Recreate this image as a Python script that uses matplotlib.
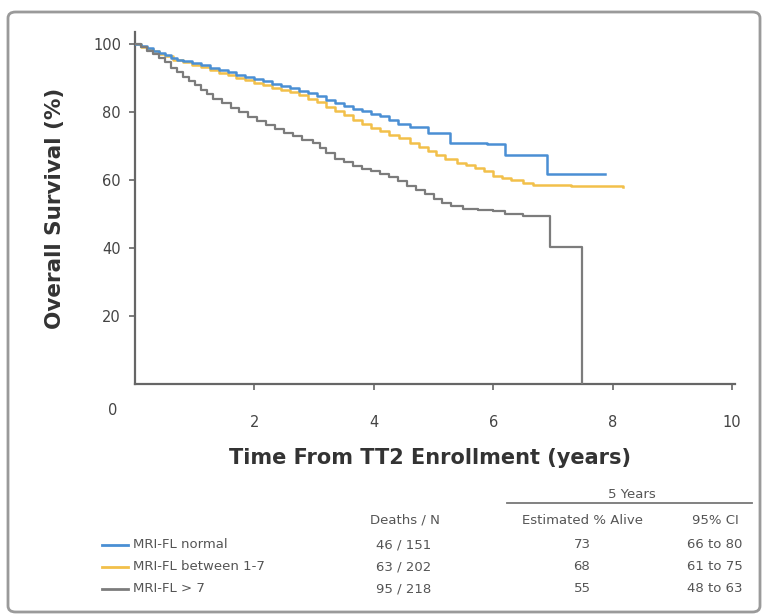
import matplotlib
matplotlib.use('Agg')
import matplotlib.pyplot as plt
from matplotlib.patches import FancyBboxPatch
from matplotlib.lines import Line2D

# Kaplan-Meier overall survival by MRI focal lesion group
t_normal = [0, 0.1, 0.2, 0.3, 0.4, 0.5, 0.6, 0.7, 0.8, 0.95, 1.1, 1.25, 1.4, 1.55,
            1.7, 1.85, 2.0, 2.15, 2.3, 2.45, 2.6, 2.75, 2.9, 3.05, 3.2, 3.35, 3.5,
            3.65, 3.8, 3.95, 4.1, 4.25, 4.4, 4.6, 4.9, 5.27, 5.9, 6.19, 6.9, 7.87]
s_normal = [100, 99.3, 98.7, 98, 97.4, 96.7, 96, 95.4, 94.9, 94.3, 93.7, 93, 92.4, 91.7,
            91, 90.3, 89.7, 89, 88.3, 87.6, 87, 86.2, 85.5, 84.6, 83.6, 82.7, 81.8,
            81, 80.3, 79.5, 78.7, 77.5, 76.5, 75.6, 73.8, 70.8, 70.5, 67.4, 61.8, 61.8]

t_mid = [0, 0.1, 0.2, 0.3, 0.4, 0.5, 0.64, 0.8, 0.95, 1.1, 1.25, 1.4, 1.55, 1.7,
         1.85, 2.0, 2.15, 2.3, 2.45, 2.6, 2.75, 2.9, 3.05, 3.2, 3.35, 3.5, 3.65,
         3.8, 3.95, 4.1, 4.25, 4.43, 4.6, 4.75, 4.9, 5.05, 5.2, 5.4, 5.55, 5.7,
         5.85, 6.0, 6.15, 6.3, 6.5, 6.67, 7.3, 8.17]
s_mid = [100, 99.2, 98.5, 97.8, 97, 96.4, 95.3, 94.6, 93.9, 93.1, 92.3, 91.5, 90.8, 90,
         89.4, 88.6, 87.9, 87.1, 86.4, 85.8, 84.9, 83.8, 82.8, 81.5, 80.2, 79, 77.7,
         76.4, 75.3, 74.3, 73.3, 72.3, 71, 69.8, 68.5, 67.3, 66.2, 65, 64.3, 63.5,
         62.5, 61.3, 60.6, 60, 59.2, 58.4, 58.2, 58]

t_high = [0, 0.1, 0.2, 0.3, 0.4, 0.5, 0.6, 0.7, 0.8, 0.9, 1.0, 1.1, 1.2, 1.31, 1.45,
          1.6, 1.75, 1.9, 2.05, 2.2, 2.35, 2.5, 2.65, 2.8, 2.98, 3.1, 3.2, 3.35,
          3.5, 3.65, 3.8, 3.95, 4.1, 4.25, 4.4, 4.55, 4.7, 4.85, 5.0, 5.15, 5.3,
          5.5, 5.75, 6.0, 6.2, 6.5, 6.95, 7.48]
s_high = [100, 99, 98, 97, 95.8, 94.6, 93, 91.6, 90.3, 89, 87.8, 86.5, 85.3, 83.8, 82.5,
          81.2, 79.9, 78.5, 77.3, 76.2, 75, 73.9, 72.8, 71.8, 70.8, 69.5, 67.8, 66.3,
          65.2, 64.2, 63.3, 62.6, 61.8, 60.8, 59.6, 58.3, 57, 55.8, 54.5, 53.2, 52.2,
          51.6, 51.2, 50.8, 50, 49.5, 40.3, 0]

groups = ['MRI-FL normal', 'MRI-FL between 1-7', 'MRI-FL > 7']
colors = ['#4a8fd4', '#f2c04a', '#7c7c7c']
deaths_n = ['46 / 151', '63 / 202', '95 / 218']
alive_5y = ['73', '68', '55']
ci_5y = ['66 to 80', '61 to 75', '48 to 63']

W, H = 765, 614
fig = plt.figure(figsize=(W / 100, H / 100), dpi=100)

def fx(px):
    return px / W

def fy(py):
    return 1 - py / H

# outer frame
frame = FancyBboxPatch((fx(8), fy(612)), fx(760) - fx(8), fy(12) - fy(612),
                       boxstyle='round,pad=0,rounding_size=0.01',
                       transform=fig.transFigure, fill=False,
                       edgecolor='#9a9a9a', linewidth=2)
fig.patches.append(frame)

ax = fig.add_axes([fx(135), fy(384), fx(735) - fx(135), fy(32) - fy(384)])
ax.step(t_normal, s_normal, where='post', color=colors[0], lw=1.8, zorder=3)
ax.step(t_mid, s_mid, where='post', color=colors[1], lw=1.8, zorder=2)
ax.step(t_high, s_high, where='post', color=colors[2], lw=1.6, zorder=4)

ax.set_xlim(0, 10.05)
ax.set_ylim(0, 103.5)
ax.set_yticks([20, 40, 60, 80, 100])
ax.set_xticks([2, 4, 6, 8, 10])
for side in ['top', 'right']:
    ax.spines[side].set_visible(False)
for side in ['left', 'bottom']:
    ax.spines[side].set_color('#666666')
    ax.spines[side].set_linewidth(1.6)
ax.tick_params(axis='y', direction='out', length=4, width=1.2, color='#666666',
               labelsize=10.5, labelcolor='#444444', pad=6)
ax.tick_params(axis='x', direction='out', length=4, width=1.2, color='#666666',
               labelsize=10.5, labelcolor='#444444', pad=18)
# the zero sits left of the y axis
ax.text(-0.37, -0.075, '0', transform=ax.get_xaxis_transform(), ha='center',
        va='center', fontsize=10.5, color='#444444')

ax.set_ylabel('Overall Survival (%)', fontsize=15.5, fontweight='bold',
              color='#333333', labelpad=20)
fig.text(fx(430), fy(458), 'Time From TT2 Enrollment (years)', ha='center',
         va='center', fontsize=15, fontweight='bold', color='#333333')

# survival table below the plot
tc = '#555555'
fs = 9.5
fig.text(fx(632), fy(495), '5 Years', ha='center', va='center', fontsize=fs, color=tc)
fig.add_artist(Line2D([fx(507), fx(752)], [fy(503), fy(503)], color='#777777',
                      lw=1.3, transform=fig.transFigure))
fig.text(fx(405), fy(520), 'Deaths / N', ha='center', va='center', fontsize=fs, color=tc)
fig.text(fx(582), fy(520), 'Estimated % Alive', ha='center', va='center', fontsize=fs, color=tc)
fig.text(fx(715), fy(520), '95% CI', ha='center', va='center', fontsize=fs, color=tc)

row_y = [545, 567, 589]
for i, name in enumerate(groups):
    y = fy(row_y[i])
    fig.add_artist(Line2D([fx(102), fx(128)], [y, y], color=colors[i], lw=2,
                          transform=fig.transFigure))
    fig.text(fx(133), y, name, ha='left', va='center', fontsize=fs, color=tc)
    fig.text(fx(404), y, deaths_n[i], ha='center', va='center', fontsize=fs, color=tc)
    fig.text(fx(582), y, alive_5y[i], ha='center', va='center', fontsize=fs, color=tc)
    fig.text(fx(715), y, ci_5y[i], ha='center', va='center', fontsize=fs, color=tc)

fig.savefig('out.png', dpi=100)
